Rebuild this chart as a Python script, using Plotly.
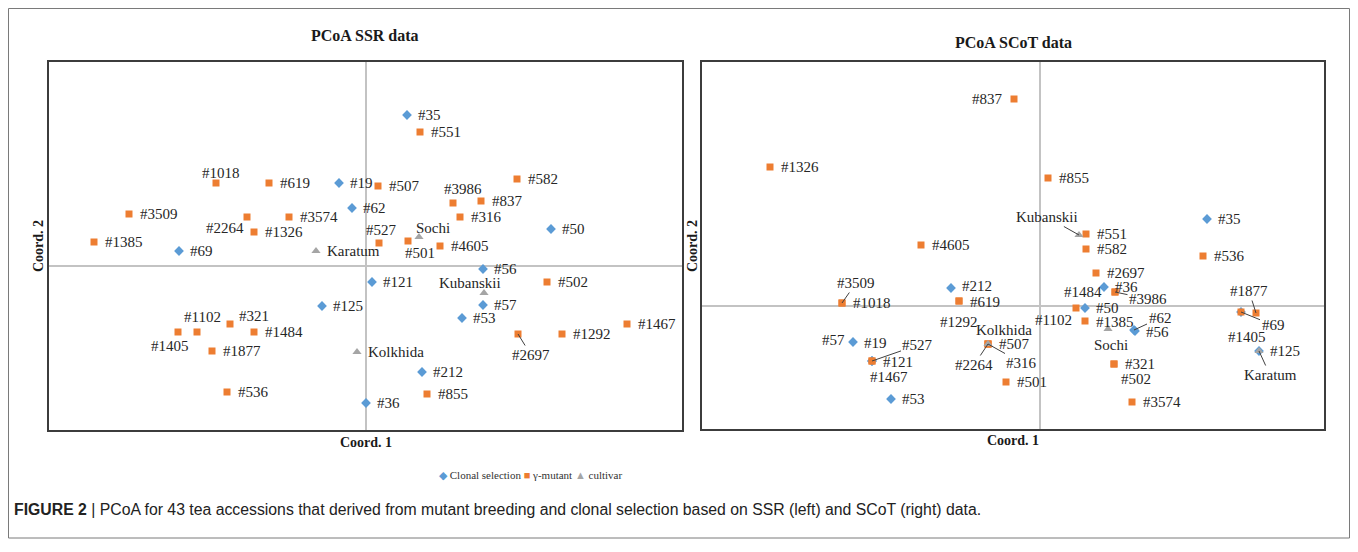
import plotly.graph_objects as go

# page is 1358x552; the HTML body has an 8px margin, so the figure itself is slightly smaller
PAGE_W, PAGE_H = 1358, 552
OFF = 8
W, H = PAGE_W - 2 * OFF, PAGE_H - 2 * OFF

# ---------------- DATA: PCoA SSR ----------------
ssr_clonal_names = ["#35", "#19", "#62", "#69", "#50", "#56", "#121", "#125", "#57", "#53", "#212", "#36"]
ssr_clonal_x = [0.41, -0.27, -0.14, -1.87, 1.85, 1.17, 0.06, -0.44, 1.17, 0.96, 0.56, 0.00]
ssr_clonal_y = [1.51, 0.83, 0.58, 0.15, 0.37, -0.03, -0.16, -0.40, -0.39, -0.52, -1.06, -1.37]

ssr_mutant_names = ["#551", "#1018", "#619", "#507", "#3986", "#837", "#582", "#3509", "#2264",
                    "#3574", "#1326", "#316", "#1385", "#527", "#501", "#4605", "#502", "#2697",
                    "#1292", "#1467", "#1102", "#321", "#1405", "#1484", "#1877", "#536", "#855"]
ssr_mutant_x = [0.54, -1.50, -0.97, 0.12, 0.87, 1.15, 1.51, -2.37, -1.19,
                -0.77, -1.12, 0.94, -2.72, 0.13, 0.42, 0.74, 1.81, 1.52,
                1.96, 2.61, -1.69, -1.36, -1.88, -1.12, -1.54, -1.39, 0.61]
ssr_mutant_y = [1.34, 0.83, 0.83, 0.80, 0.63, 0.65, 0.87, 0.52, 0.49,
                0.49, 0.34, 0.49, 0.24, 0.23, 0.25, 0.20, -0.16, -0.68,
                -0.68, -0.58, -0.66, -0.58, -0.66, -0.66, -0.85, -1.26, -1.28]

ssr_cultivar_names = ["Sochi", "Karatum", "Kubanskii", "Kolkhida"]
ssr_cultivar_x = [0.53, -0.50, 1.18, -0.09]
ssr_cultivar_y = [0.29, 0.15, -0.27, -0.86]

# ---------------- DATA: PCoA SCoT ----------------
scot_clonal_names = ["#35", "#212", "#57", "#19", "#121", "#53", "#36", "#50", "#62", "#56", "#69", "#125"]
scot_clonal_x = [1.67, -0.89, -1.87, -1.68, -1.68, -1.49, 0.64, 0.45, 0.94, 0.95, 2.01, 2.19]
scot_clonal_y = [0.87, 0.18, -0.36, -0.55, -0.55, -0.93, 0.19, -0.02, -0.24, -0.25, -0.06, -0.45]

scot_mutant_names = ["#837", "#1326", "#855", "#4605", "#551", "#582", "#536", "#2697", "#1484",
                     "#3986", "#1102", "#1385", "#3509", "#1018", "#619", "#1292", "#507", "#2264",
                     "#316", "#501", "#527", "#1467", "#321", "#502", "#3574", "#1877", "#1405"]
scot_mutant_x = [-0.26, -2.70, 0.08, -1.19, 0.46, 0.46, 1.63, 0.56, 0.75,
                 0.75, 0.36, 0.45, -1.98, -1.98, -0.81, -0.81, -0.52, -0.52,
                 -0.52, -0.34, -1.68, -1.68, 0.74, 0.74, 0.92, 2.16, 2.01]
scot_mutant_y = [2.07, 1.39, 1.28, 0.61, 0.72, 0.57, 0.50, 0.33, 0.14,
                 0.14, -0.02, -0.15, 0.03, 0.03, 0.05, 0.05, -0.38, -0.38,
                 -0.38, -0.76, -0.55, -0.55, -0.58, -0.58, -0.96, -0.07, -0.06]

scot_cultivar_names = ["Kubanskii", "Kolkhida", "Sochi", "Karatum"]
scot_cultivar_x = [0.39, -0.52, 0.68, 2.19]
scot_cultivar_y = [0.71, -0.38, -0.23, -0.45]

group_names = ["Clonal selection", "γ-mutant", "cultivar"]

# ---------------- STYLE ----------------
BLUE, ORANGE, GRAY = "#5B9BD5", "#ED7D31", "#A5A5A5"
SERIF = "Liberation Serif, Times New Roman, serif"
LABEL_FONT = dict(family=SERIF, size=15, color="#262626")

# label placement (pixel offsets of text from its marker): mode, dx, dy
ssr_place = {
    "#1018": ("c", 5, -10), "#2264": ("c", -22, 11), "#3986": ("c", 10, -14),
    "#527": ("c", 2, -13), "Sochi": ("c", 14, -9), "#501": ("c", 12, 12),
    "Kubanskii": ("c", -14, -10), "#2697": ("a", 13, 21), "#1102": ("c", 5, -15),
    "#321": ("c", 24, -8), "#1405": ("c", -8, 14),
}
scot_place = {
    "#837": ("l", -9, 0), "Kubanskii": ("a", -32, -18), "#3509": ("a", 14, -20),
    "#1292": ("c", 0, 21), "#619": ("r", 0, 1), "#212": ("r", 0, -2),
    "Kolkhida": ("c", 16, -14), "#2264": ("a", -14, 21),
    "#316": ("a", 34, 19), "#57": ("l", -6, -2), "#19": ("c", 4, -18),
    "#527": ("a", 46, -16), "#1467": ("c", 17, 16), "#1484": ("l", -11, 0),
    "#3986": ("a", 33, 7), "#1102": ("c", -23, 12), "Sochi": ("c", 3, 16),
    "#62": ("a", 26, -12), "#502": ("c", 22, 15), "#1877": ("a", -7, -22),
    "#69": ("a", 32, 13), "#1405": ("c", 6, 25), "Karatum": ("a", 11, 24),
    "#121": ("r", 0, 1), "#56": ("r", 0, 1), "#1385": ("r", 0, 1),
}

fig = go.Figure()

def add_series(xs, ys, names, color, symbol, size, xa, ya):
    fig.add_trace(go.Scatter(
        x=xs, y=ys, text=names, mode="markers", xaxis=xa, yaxis=ya,
        marker=dict(color=color, symbol=symbol, size=size, line=dict(width=0)),
        showlegend=False, hoverinfo="text"))

def add_labels(names, xs, ys, place, xref, yref):
    for n, x, y in zip(names, xs, ys):
        mode, dx, dy = place.get(n, ("r", 0, 0))
        a = dict(x=x, y=y, xref=xref, yref=yref, text=n, font=LABEL_FONT)
        if mode == "r":
            a.update(showarrow=False, xanchor="left", yanchor="middle", xshift=9 + dx, yshift=-dy)
        elif mode == "l":
            a.update(showarrow=False, xanchor="right", yanchor="middle", xshift=dx, yshift=-dy)
        elif mode == "c":
            a.update(showarrow=False, xanchor="center", yanchor="middle", xshift=dx, yshift=-dy)
        else:
            a.update(showarrow=True, arrowhead=0, arrowwidth=1, arrowcolor="#404040",
                     ax=dx, ay=dy, standoff=0, xanchor="center", yanchor="middle")
        fig.add_annotation(**a)

panels = [
    ("x", "y",
     (ssr_clonal_names, ssr_clonal_x, ssr_clonal_y),
     (ssr_mutant_names, ssr_mutant_x, ssr_mutant_y),
     (ssr_cultivar_names, ssr_cultivar_x, ssr_cultivar_y), ssr_place),
    ("x2", "y2",
     (scot_clonal_names, scot_clonal_x, scot_clonal_y),
     (scot_mutant_names, scot_mutant_x, scot_mutant_y),
     (scot_cultivar_names, scot_cultivar_x, scot_cultivar_y), scot_place),
]

for xa, ya, cl, mu, cu, place in panels:
    add_series(cl[1], cl[2], cl[0], BLUE, "diamond", 7.5, xa, ya)
    add_series(mu[1], mu[2], mu[0], ORANGE, "square", 7, xa, ya)
    add_series(cu[1], cu[2], cu[0], GRAY, "triangle-up", 8, xa, ya)
    for grp in (cl, mu, cu):
        add_labels(grp[0], grp[1], grp[2], place, xa, ya)

def px_x(p):
    return (p - OFF) / W

def px_y(p):
    return 1 - (p - OFF) / H

axis_common = dict(showgrid=False, zeroline=True, zerolinecolor="#C3C3C3", zerolinewidth=1.5,
                   showticklabels=False, ticks="", showline=True, mirror=True,
                   linecolor="#3C3C3C", linewidth=2, fixedrange=True)

fig.update_layout(
    width=W, height=H, margin=dict(l=0, r=0, t=0, b=0),
    paper_bgcolor="white", plot_bgcolor="white", showlegend=False,
    xaxis=dict(domain=[px_x(49), px_x(682)], range=[-3.17, 3.16], anchor="y", **axis_common),
    yaxis=dict(domain=[px_y(430), px_y(62)], range=[-1.64, 2.04], anchor="x", **axis_common),
    xaxis2=dict(domain=[px_x(702), px_x(1324)], range=[-3.38, 2.84], anchor="y2", **axis_common),
    yaxis2=dict(domain=[px_y(429), px_y(62)], range=[-1.23, 2.44], anchor="x2", **axis_common),
)

TITLE_FONT = dict(family=SERIF, size=16, color="#1a1a1a")
AX_FONT = dict(family=SERIF, size=14, color="#1a1a1a")

paper_texts = [
    ("<b>PCoA SSR data</b>", 365, 35, TITLE_FONT, 0),
    ("<b>PCoA SCoT data</b>", 1013, 42, TITLE_FONT, 0),
    ("<b>Coord. 1</b>", 366, 442, AX_FONT, 0),
    ("<b>Coord. 1</b>", 1013, 440, AX_FONT, 0),
    ("<b>Coord. 2</b>", 38, 246, AX_FONT, -90),
    ("<b>Coord. 2</b>", 692, 246, AX_FONT, -90),
]
for txt, x, y, f, ang in paper_texts:
    fig.add_annotation(text=txt, x=px_x(x), y=px_y(y), xref="paper", yref="paper",
                       showarrow=False, xanchor="center", yanchor="middle", font=f, textangle=ang)

# legend
legend_text = (f'<span style="color:{BLUE}">◆</span> {group_names[0]} '
               f'<span style="color:{ORANGE}">■</span> {group_names[1]} '
               f'<span style="color:{GRAY}">▲</span> {group_names[2]}')
fig.add_annotation(text=legend_text, x=px_x(530), y=px_y(475), xref="paper", yref="paper",
                   showarrow=False, xanchor="center", yanchor="middle",
                   font=dict(family=SERIF, size=11, color="#333333"))

# caption
caption = ("<b>FIGURE 2</b> | PCoA for 43 tea accessions that derived from mutant breeding and clonal "
           "selection based on SSR (left) and SCoT (right) data.")
fig.add_annotation(text=caption, x=px_x(12), y=px_y(509), xref="paper", yref="paper",
                   showarrow=False, xanchor="left", yanchor="middle",
                   font=dict(family="Liberation Sans, Arial, sans-serif", size=15.8, color="#222222"))

# outer frame
fig.add_shape(type="rect", xref="paper", yref="paper",
              x0=px_x(8.5), x1=px_x(1349.5), y0=px_y(538), y1=px_y(8.5),
              line=dict(color="#7a7a7a", width=1), layer="below")

fig.write_html("out.html")
